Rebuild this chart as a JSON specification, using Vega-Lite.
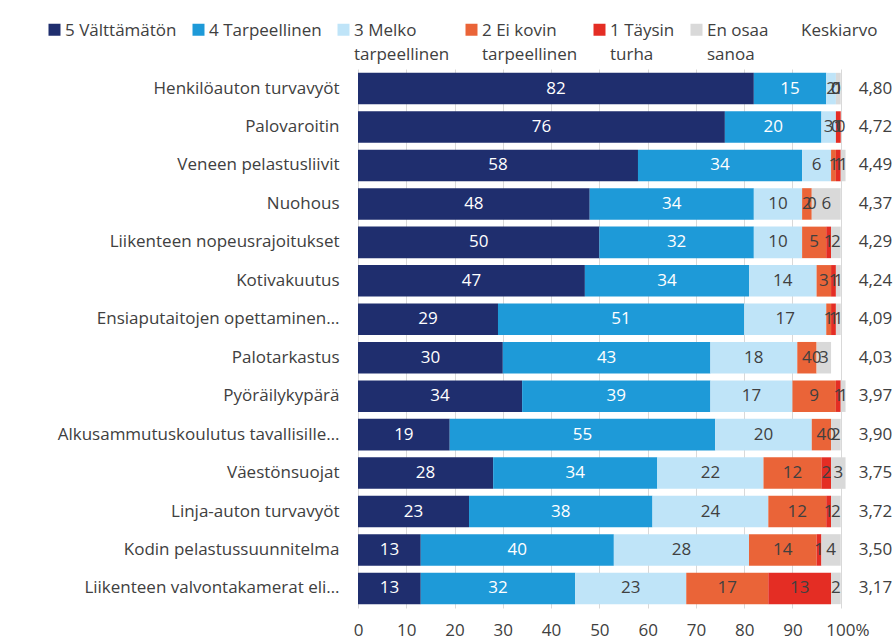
{
  "$schema": "https://vega.github.io/schema/vega-lite/v6.json",
  "autosize": "none",
  "padding": {"left": 358, "top": 69, "right": 6, "bottom": 34},
  "width": 531,
  "height": 539,
  "background": "white",
  "config": {
    "font": "Open Sans",
    "view": {"stroke": null},
    "legend": {"orient": "none"}
  },
  "datasets": {
    "shares": [
      {"item": "Henkilöauton turvavyöt", "cat": "5 Välttämätön", "value": 82},
      {"item": "Henkilöauton turvavyöt", "cat": "4 Tarpeellinen", "value": 15},
      {"item": "Henkilöauton turvavyöt", "cat": "3 Melko tarpeellinen", "value": 2},
      {"item": "Henkilöauton turvavyöt", "cat": "2 Ei kovin tarpeellinen", "value": 0},
      {"item": "Henkilöauton turvavyöt", "cat": "1 Täysin turha", "value": 0},
      {"item": "Henkilöauton turvavyöt", "cat": "En osaa sanoa", "value": 1},
      {"item": "Palovaroitin", "cat": "5 Välttämätön", "value": 76},
      {"item": "Palovaroitin", "cat": "4 Tarpeellinen", "value": 20},
      {"item": "Palovaroitin", "cat": "3 Melko tarpeellinen", "value": 3},
      {"item": "Palovaroitin", "cat": "2 Ei kovin tarpeellinen", "value": 0},
      {"item": "Palovaroitin", "cat": "1 Täysin turha", "value": 1},
      {"item": "Palovaroitin", "cat": "En osaa sanoa", "value": 0},
      {"item": "Veneen pelastusliivit", "cat": "5 Välttämätön", "value": 58},
      {"item": "Veneen pelastusliivit", "cat": "4 Tarpeellinen", "value": 34},
      {"item": "Veneen pelastusliivit", "cat": "3 Melko tarpeellinen", "value": 6},
      {"item": "Veneen pelastusliivit", "cat": "2 Ei kovin tarpeellinen", "value": 1},
      {"item": "Veneen pelastusliivit", "cat": "1 Täysin turha", "value": 1},
      {"item": "Veneen pelastusliivit", "cat": "En osaa sanoa", "value": 1},
      {"item": "Nuohous", "cat": "5 Välttämätön", "value": 48},
      {"item": "Nuohous", "cat": "4 Tarpeellinen", "value": 34},
      {"item": "Nuohous", "cat": "3 Melko tarpeellinen", "value": 10},
      {"item": "Nuohous", "cat": "2 Ei kovin tarpeellinen", "value": 2},
      {"item": "Nuohous", "cat": "1 Täysin turha", "value": 0},
      {"item": "Nuohous", "cat": "En osaa sanoa", "value": 6},
      {"item": "Liikenteen nopeusrajoitukset", "cat": "5 Välttämätön", "value": 50},
      {"item": "Liikenteen nopeusrajoitukset", "cat": "4 Tarpeellinen", "value": 32},
      {"item": "Liikenteen nopeusrajoitukset", "cat": "3 Melko tarpeellinen", "value": 10},
      {"item": "Liikenteen nopeusrajoitukset", "cat": "2 Ei kovin tarpeellinen", "value": 5},
      {"item": "Liikenteen nopeusrajoitukset", "cat": "1 Täysin turha", "value": 1},
      {"item": "Liikenteen nopeusrajoitukset", "cat": "En osaa sanoa", "value": 2},
      {"item": "Kotivakuutus", "cat": "5 Välttämätön", "value": 47},
      {"item": "Kotivakuutus", "cat": "4 Tarpeellinen", "value": 34},
      {"item": "Kotivakuutus", "cat": "3 Melko tarpeellinen", "value": 14},
      {"item": "Kotivakuutus", "cat": "2 Ei kovin tarpeellinen", "value": 3},
      {"item": "Kotivakuutus", "cat": "1 Täysin turha", "value": 1},
      {"item": "Kotivakuutus", "cat": "En osaa sanoa", "value": 1},
      {"item": "Ensiaputaitojen opettaminen…", "cat": "5 Välttämätön", "value": 29},
      {"item": "Ensiaputaitojen opettaminen…", "cat": "4 Tarpeellinen", "value": 51},
      {"item": "Ensiaputaitojen opettaminen…", "cat": "3 Melko tarpeellinen", "value": 17},
      {"item": "Ensiaputaitojen opettaminen…", "cat": "2 Ei kovin tarpeellinen", "value": 1},
      {"item": "Ensiaputaitojen opettaminen…", "cat": "1 Täysin turha", "value": 1},
      {"item": "Ensiaputaitojen opettaminen…", "cat": "En osaa sanoa", "value": 1},
      {"item": "Palotarkastus", "cat": "5 Välttämätön", "value": 30},
      {"item": "Palotarkastus", "cat": "4 Tarpeellinen", "value": 43},
      {"item": "Palotarkastus", "cat": "3 Melko tarpeellinen", "value": 18},
      {"item": "Palotarkastus", "cat": "2 Ei kovin tarpeellinen", "value": 4},
      {"item": "Palotarkastus", "cat": "1 Täysin turha", "value": 0},
      {"item": "Palotarkastus", "cat": "En osaa sanoa", "value": 3},
      {"item": "Pyöräilykypärä", "cat": "5 Välttämätön", "value": 34},
      {"item": "Pyöräilykypärä", "cat": "4 Tarpeellinen", "value": 39},
      {"item": "Pyöräilykypärä", "cat": "3 Melko tarpeellinen", "value": 17},
      {"item": "Pyöräilykypärä", "cat": "2 Ei kovin tarpeellinen", "value": 9},
      {"item": "Pyöräilykypärä", "cat": "1 Täysin turha", "value": 1},
      {"item": "Pyöräilykypärä", "cat": "En osaa sanoa", "value": 1},
      {"item": "Alkusammutuskoulutus tavallisille…", "cat": "5 Välttämätön", "value": 19},
      {"item": "Alkusammutuskoulutus tavallisille…", "cat": "4 Tarpeellinen", "value": 55},
      {"item": "Alkusammutuskoulutus tavallisille…", "cat": "3 Melko tarpeellinen", "value": 20},
      {"item": "Alkusammutuskoulutus tavallisille…", "cat": "2 Ei kovin tarpeellinen", "value": 4},
      {"item": "Alkusammutuskoulutus tavallisille…", "cat": "1 Täysin turha", "value": 0},
      {"item": "Alkusammutuskoulutus tavallisille…", "cat": "En osaa sanoa", "value": 2},
      {"item": "Väestönsuojat", "cat": "5 Välttämätön", "value": 28},
      {"item": "Väestönsuojat", "cat": "4 Tarpeellinen", "value": 34},
      {"item": "Väestönsuojat", "cat": "3 Melko tarpeellinen", "value": 22},
      {"item": "Väestönsuojat", "cat": "2 Ei kovin tarpeellinen", "value": 12},
      {"item": "Väestönsuojat", "cat": "1 Täysin turha", "value": 2},
      {"item": "Väestönsuojat", "cat": "En osaa sanoa", "value": 3},
      {"item": "Linja-auton turvavyöt", "cat": "5 Välttämätön", "value": 23},
      {"item": "Linja-auton turvavyöt", "cat": "4 Tarpeellinen", "value": 38},
      {"item": "Linja-auton turvavyöt", "cat": "3 Melko tarpeellinen", "value": 24},
      {"item": "Linja-auton turvavyöt", "cat": "2 Ei kovin tarpeellinen", "value": 12},
      {"item": "Linja-auton turvavyöt", "cat": "1 Täysin turha", "value": 1},
      {"item": "Linja-auton turvavyöt", "cat": "En osaa sanoa", "value": 2},
      {"item": "Kodin pelastussuunnitelma", "cat": "5 Välttämätön", "value": 13},
      {"item": "Kodin pelastussuunnitelma", "cat": "4 Tarpeellinen", "value": 40},
      {"item": "Kodin pelastussuunnitelma", "cat": "3 Melko tarpeellinen", "value": 28},
      {"item": "Kodin pelastussuunnitelma", "cat": "2 Ei kovin tarpeellinen", "value": 14},
      {"item": "Kodin pelastussuunnitelma", "cat": "1 Täysin turha", "value": 1},
      {"item": "Kodin pelastussuunnitelma", "cat": "En osaa sanoa", "value": 4},
      {"item": "Liikenteen valvontakamerat eli…", "cat": "5 Välttämätön", "value": 13},
      {"item": "Liikenteen valvontakamerat eli…", "cat": "4 Tarpeellinen", "value": 32},
      {"item": "Liikenteen valvontakamerat eli…", "cat": "3 Melko tarpeellinen", "value": 23},
      {"item": "Liikenteen valvontakamerat eli…", "cat": "2 Ei kovin tarpeellinen", "value": 17},
      {"item": "Liikenteen valvontakamerat eli…", "cat": "1 Täysin turha", "value": 13},
      {"item": "Liikenteen valvontakamerat eli…", "cat": "En osaa sanoa", "value": 2}
    ],
    "means": [
      {"item": "Henkilöauton turvavyöt", "mean": "4,80"},
      {"item": "Palovaroitin", "mean": "4,72"},
      {"item": "Veneen pelastusliivit", "mean": "4,49"},
      {"item": "Nuohous", "mean": "4,37"},
      {"item": "Liikenteen nopeusrajoitukset", "mean": "4,29"},
      {"item": "Kotivakuutus", "mean": "4,24"},
      {"item": "Ensiaputaitojen opettaminen…", "mean": "4,09"},
      {"item": "Palotarkastus", "mean": "4,03"},
      {"item": "Pyöräilykypärä", "mean": "3,97"},
      {"item": "Alkusammutuskoulutus tavallisille…", "mean": "3,90"},
      {"item": "Väestönsuojat", "mean": "3,75"},
      {"item": "Linja-auton turvavyöt", "mean": "3,72"},
      {"item": "Kodin pelastussuunnitelma", "mean": "3,50"},
      {"item": "Liikenteen valvontakamerat eli…", "mean": "3,17"}
    ]
  },
  "layer": [
    {
      "data": {"name": "shares"},
      "transform": [
        {"calculate": "indexof(['5 Välttämätön','4 Tarpeellinen','3 Melko tarpeellinen','2 Ei kovin tarpeellinen','1 Täysin turha','En osaa sanoa'], datum.cat)", "as": "ord"},
        {"stack": "value", "groupby": ["item"], "sort": [{"field": "ord", "order": "ascending"}], "as": ["start", "end"]},
        {"calculate": "(datum.start + datum.end) / 2", "as": "mid"}
      ],
      "layer": [
        {
          "mark": {"type": "bar"},
          "encoding": {
            "y": {"field": "item", "type": "nominal", "sort": null, "scale": {"paddingInner": 0.18, "paddingOuter": 0.1},
              "axis": {"title": null, "domain": false, "ticks": false, "labelFontSize": 17, "labelColor": "#404040", "labelPadding": 19, "labelLimit": 345}},
            "x": {"field": "start", "type": "quantitative", "scale": {"domain": [0, 110], "nice": false},
              "axis": {"title": null, "values": [0, 10, 20, 30, 40, 50, 60, 70, 80, 90, 100], "domain": false, "ticks": false,
                "grid": true, "gridColor": "#d9d9d9", "gridWidth": 1, "labelFontSize": 17, "labelColor": "#404040", "labelPadding": 14,
                "labelExpr": "datum.value == 100 ? '100%' : datum.label",
                "labelAlign": {"condition": {"test": "datum.value == 100", "value": "left"}, "value": "center"},
                "labelOffset": {"condition": {"test": "datum.value == 100", "value": -15}, "value": 0}}},
            "x2": {"field": "end"},
            "color": {"field": "cat", "type": "nominal",
              "scale": {"domain": ["5 Välttämätön", "4 Tarpeellinen", "3 Melko tarpeellinen", "2 Ei kovin tarpeellinen", "1 Täysin turha", "En osaa sanoa", "Keskiarvo"],
                "range": ["#1f2e6e", "#1e9ad8", "#bfe4f8", "#ea6438", "#e42d24", "#d9d9d9", "rgba(255,255,255,0)"]},
              "legend": {"title": null, "direction": "horizontal", "legendX": -312, "legendY": -48,
                "symbolType": "square", "symbolSize": 144, "symbolStrokeWidth": 0, "labelFontSize": 17, "labelColor": "#404040",
                "labelLimit": 300, "columnPadding": 13, "labelOffset": 2, "labelBaseline": "top",
                "labelExpr": "datum.label == '3 Melko tarpeellinen' ? ['3 Melko','tarpeellinen'] : datum.label == '2 Ei kovin tarpeellinen' ? ['2 Ei kovin','tarpeellinen'] : datum.label == '1 Täysin turha' ? ['1 Täysin','turha'] : datum.label == 'En osaa sanoa' ? ['En osaa','sanoa'] : [datum.label, '']",
                "encode": {"labels": {"update": {"dy": {"value": -7}, "lineHeight": {"value": 24}}}}}}
          }
        },
        {
          "mark": {"type": "text", "fontSize": 17, "align": "center", "baseline": "middle"},
          "encoding": {
            "y": {"field": "item", "type": "nominal", "sort": null},
            "x": {"field": "mid", "type": "quantitative"},
            "text": {"field": "value", "type": "quantitative"},
            "color": {"condition": {"test": "datum.cat == '5 Välttämätön' || datum.cat == '4 Tarpeellinen'", "value": "white"}, "value": "#404040"}
          }
        }
      ]
    },
    {
      "data": {"name": "means"},
      "mark": {"type": "text", "fontSize": 17, "align": "center", "baseline": "middle", "color": "#404040"},
      "encoding": {
        "y": {"field": "item", "type": "nominal", "sort": null},
        "x": {"datum": 107.2, "type": "quantitative"},
        "text": {"field": "mean", "type": "nominal"}
      }
    }
  ]
}
